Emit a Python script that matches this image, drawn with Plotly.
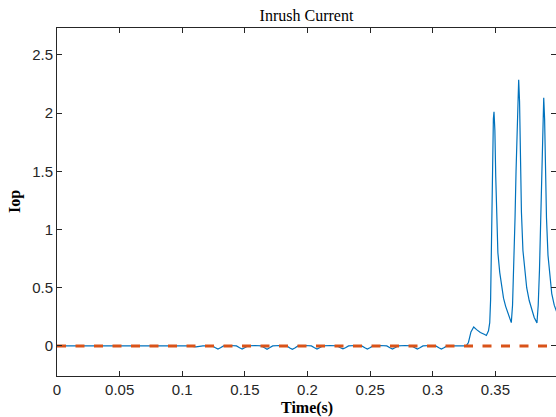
import plotly.graph_objects as go

# ---- data ----
time_s = [0.0, 0.105, 0.111, 0.1165, 0.1235,
          0.124, 0.1265, 0.1285, 0.1305, 0.133, 0.138,
          0.1433, 0.1458, 0.1478, 0.1498, 0.1523, 0.158,
          0.1632, 0.1657, 0.1677, 0.1697, 0.1722, 0.178,
          0.1834, 0.1859, 0.1879, 0.1899, 0.1924, 0.198,
          0.2031, 0.2056, 0.2076, 0.2096, 0.2121, 0.218,
          0.2238, 0.2263, 0.2283, 0.2303, 0.2328, 0.238,
          0.2433, 0.2458, 0.2478, 0.2498, 0.2523, 0.258,
          0.2633, 0.2658, 0.2678, 0.2698, 0.2723, 0.278,
          0.2832, 0.2857, 0.2877, 0.2897, 0.2922, 0.298,
          0.3024, 0.3049, 0.3069, 0.3089, 0.3114,
          0.3267, 0.3285, 0.3305, 0.3327, 0.335, 0.338, 0.3415, 0.3428,
          0.3445, 0.3455, 0.3462, 0.3468, 0.3472, 0.3478, 0.3484, 0.3489,
          0.3496, 0.3503, 0.351, 0.352, 0.3535, 0.3547, 0.3565, 0.3582, 0.36, 0.3615, 0.3627,
          0.3637, 0.3647, 0.3657, 0.3665, 0.3675, 0.3686,
          0.3693, 0.37, 0.3708, 0.372, 0.3735, 0.375, 0.377, 0.379, 0.381, 0.3832,
          0.3842, 0.3852, 0.3862, 0.3872, 0.388, 0.3886,
          0.3893, 0.39, 0.3908, 0.392, 0.3935, 0.395, 0.397, 0.3985, 0.40]
iop = [0.0, 0.0, -0.008, 0.0, 0.0,
       0.0, -0.016, -0.027, -0.016, 0.0, 0.004,
       0.0, -0.016, -0.027, -0.016, 0.0, 0.004,
       0.0, -0.016, -0.028, -0.016, 0.0, 0.004,
       0.0, -0.017, -0.029, -0.017, 0.0, 0.004,
       0.0, -0.016, -0.027, -0.016, 0.0, 0.004,
       0.0, -0.015, -0.025, -0.015, 0.0, 0.004,
       0.0, -0.016, -0.027, -0.016, 0.0, 0.004,
       0.0, -0.016, -0.027, -0.016, 0.0, 0.004,
       0.0, -0.016, -0.027, -0.016, 0.0, 0.004,
       0.0, -0.016, -0.027, -0.016, 0.0,
       0.0, 0.03, 0.12, 0.163, 0.14, 0.115, 0.098, 0.09,
       0.13, 0.2, 0.4, 0.8, 1.3, 1.7, 1.95, 2.01,
       1.85, 1.45, 1.05, 0.8, 0.63, 0.52, 0.41, 0.34, 0.28, 0.235, 0.2,
       0.35, 0.65, 1.1, 1.5, 2.0, 2.285,
       2.1, 1.6, 1.15, 0.82, 0.63, 0.5, 0.39, 0.31, 0.245, 0.198,
       0.35, 0.65, 1.1, 1.6, 2.0, 2.13,
       1.95, 1.5, 1.1, 0.78, 0.58, 0.45, 0.35, 0.3, 0.26]
threshold_t = [0.0, 0.40]
threshold_v = [0.0, 0.0]

x_ticks = [0, 0.05, 0.1, 0.15, 0.2, 0.25, 0.3, 0.35]
x_labels = ["0", "0.05", "0.1", "0.15", "0.2", "0.25", "0.3", "0.35"]
y_ticks = [0, 0.5, 1, 1.5, 2, 2.5]
y_labels = ["0", "0.5", "1", "1.5", "2", "2.5"]

X_RANGE = [0, 0.3984]
Y_RANGE = [-0.258, 2.73]
AX = "#262626"
SANS = "Liberation Sans, Arial, sans-serif"
SERIF = "Liberation Serif, Times New Roman, serif"

fig = go.Figure()
fig.add_trace(go.Scatter(x=time_s, y=iop, mode="lines",
                         line=dict(color="#0072BD", width=1.2),
                         showlegend=False, hoverinfo="skip"))
fig.add_trace(go.Scatter(x=threshold_t, y=threshold_v, mode="lines", yaxis="y2",
                         line=dict(color="#D95319", width=3, dash="9px,9.5px"),
                         showlegend=False, hoverinfo="skip"))

W, H = 556, 417
L, R, T, B = 57, 0, 28, 41
fig.update_layout(
    width=W, height=H,
    margin=dict(l=L, r=R, t=T, b=B, pad=0),
    paper_bgcolor="white", plot_bgcolor="white",
    title=dict(text="Inrush Current", x=0.5, xref="paper", xanchor="center",
               y=(H - 15) / H, yref="container", yanchor="middle",
               font=dict(family=SERIF, size=16, color="#000000")),
    xaxis=dict(range=X_RANGE, tickvals=x_ticks, ticktext=x_labels,
               ticks="inside", ticklen=5, tickwidth=1, tickcolor=AX,
               showline=True, linecolor=AX, linewidth=1, mirror="ticks",
               showgrid=False, zeroline=False,
               tickfont=dict(family=SANS, size=15, color=AX)),
    yaxis=dict(range=Y_RANGE, tickvals=y_ticks, ticktext=y_labels,
               ticks="inside", ticklen=5, tickwidth=1, tickcolor=AX,
               showline=True, linecolor=AX, linewidth=1, mirror=False,
               showgrid=False, zeroline=False,
               tickfont=dict(family=SANS, size=15, color=AX)),
    yaxis2=dict(range=Y_RANGE, tickvals=y_ticks, overlaying="y", side="right",
                ticks="inside", ticklen=5, tickwidth=1, tickcolor=AX,
                showline=False, showgrid=False, zeroline=False,
                showticklabels=False),
    annotations=[
        dict(text="<b>Time(s)</b>", xref="paper", yref="paper",
             x=0.5, y=(376 - 408) / 348, xanchor="center", yanchor="middle",
             showarrow=False, font=dict(family=SERIF, size=16, color="#000000")),
        dict(text="<b>Iop</b>", xref="paper", yref="paper",
             x=(15 - L) / (W - L), y=(376 - 202) / 348, xanchor="center", yanchor="middle",
             textangle=-90, showarrow=False,
             font=dict(family=SERIF, size=16, color="#000000")),
    ],
)

fig.write_html("out.html",
               config={"displayModeBar": False},
               post_script="document.body.style.margin='0';"
                           "document.body.style.overflow='hidden';"
                           "document.documentElement.style.overflow='hidden';")
